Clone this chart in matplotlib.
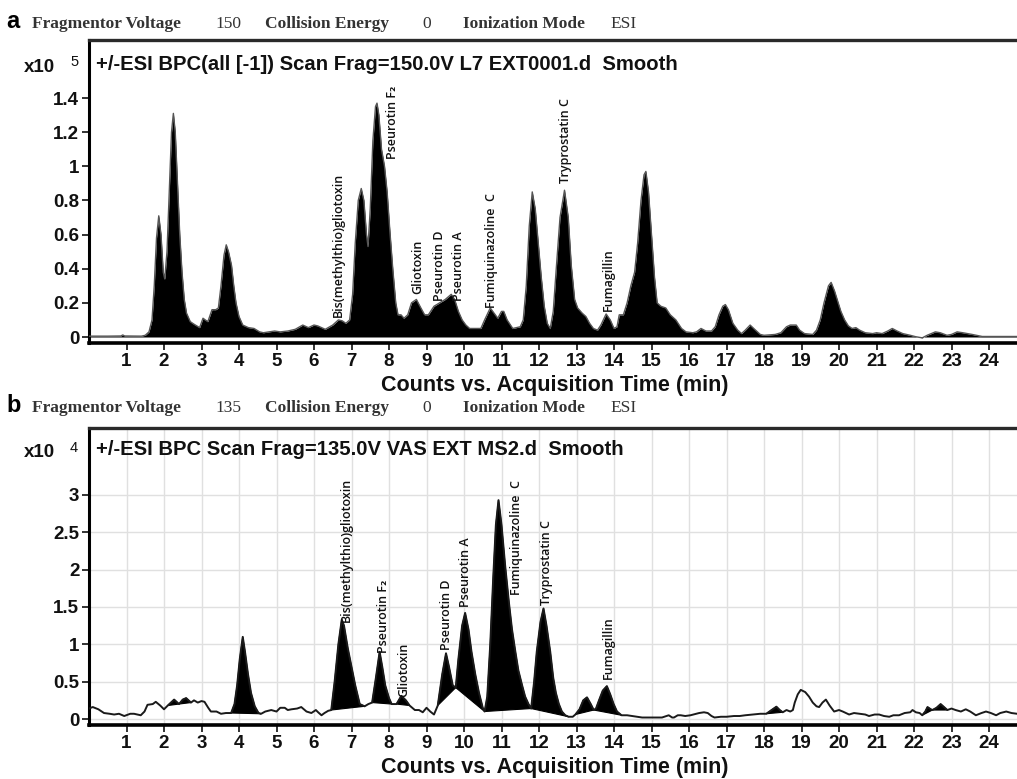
import numpy as np
import matplotlib
matplotlib.use("Agg")
import matplotlib.pyplot as plt

# ---------------- data ----------------
# Panel a: BPC trace (time in min, counts x10^5)
a_time = [0.0, 0.5, 0.85, 0.9, 0.95, 1.4, 1.5, 1.6, 1.68, 1.74, 1.8, 1.86, 1.92, 1.98, 2.02, 2.08, 2.14,
          2.2, 2.25, 2.3, 2.36, 2.42, 2.48, 2.54, 2.6, 2.7, 2.8, 2.95, 3.04, 3.1, 3.17, 3.28, 3.38, 3.45,
          3.52, 3.6, 3.66, 3.72, 3.8, 3.86, 3.92, 4.0, 4.1, 4.25, 4.4, 4.55, 4.65, 4.8, 4.95, 5.1, 5.3,
          5.5, 5.7, 5.85, 6.0, 6.1, 6.3, 6.5, 6.65, 6.75, 6.85, 6.95, 7.03, 7.1, 7.18, 7.26, 7.33, 7.4,
          7.44, 7.5, 7.57, 7.64, 7.68, 7.73, 7.8, 7.88, 7.95, 8.02, 8.1, 8.18, 8.24, 8.32, 8.4, 8.5, 8.6,
          8.73, 8.85, 8.95, 9.05, 9.2, 9.35, 9.5, 9.66, 9.75, 9.85, 9.95, 10.05, 10.15, 10.45, 10.55,
          10.7, 10.8, 10.9, 11.0, 11.06, 11.15, 11.3, 11.5, 11.58, 11.66, 11.74, 11.82, 11.9, 11.98,
          12.06, 12.14, 12.22, 12.3, 12.38, 12.46, 12.56, 12.68, 12.78, 12.86, 12.95, 13.03, 13.15,
          13.25, 13.35, 13.45, 13.56, 13.65, 13.79, 13.9, 14.0, 14.08, 14.14, 14.25, 14.35, 14.45,
          14.55, 14.63, 14.72, 14.8, 14.85, 14.92, 15.0, 15.08, 15.15, 15.25, 15.38, 15.5, 15.65, 15.8,
          15.92, 16.1, 16.2, 16.32, 16.45, 16.6, 16.7, 16.8, 16.9, 16.97, 17.05, 17.17, 17.3, 17.4,
          17.5, 17.63, 17.75, 17.9, 18.0, 18.3, 18.45, 18.6, 18.7, 18.86, 18.95, 19.08, 19.3, 19.4,
          19.5, 19.6, 19.72, 19.79, 19.88, 19.95, 20.05, 20.15, 20.25, 20.35, 20.45, 20.55, 20.7, 20.9,
          21.0, 21.15, 21.3, 21.42, 21.55, 21.7, 21.9, 22.04, 22.22, 22.35, 22.57, 22.7, 22.88, 23.0,
          23.15, 23.3, 23.55, 23.82, 24.0, 25.2]
a_counts = [0.005, 0.005, 0.006, 0.012, 0.006, 0.005, 0.01, 0.03, 0.1, 0.3, 0.58, 0.71, 0.6, 0.38, 0.34,
            0.5, 0.85, 1.2, 1.31, 1.2, 0.9, 0.6, 0.38, 0.22, 0.14, 0.09, 0.075, 0.055, 0.11, 0.1, 0.09,
            0.16, 0.16, 0.17, 0.3, 0.48, 0.54, 0.5, 0.42, 0.3, 0.2, 0.12, 0.07, 0.055, 0.05, 0.03, 0.025,
            0.03, 0.035, 0.03, 0.035, 0.045, 0.07, 0.055, 0.07, 0.065, 0.045, 0.07, 0.1, 0.095, 0.08,
            0.1, 0.25, 0.55, 0.8, 0.87, 0.8, 0.6, 0.53, 0.75, 1.15, 1.35, 1.37, 1.3, 1.1, 1.0, 0.85,
            0.63, 0.4, 0.2, 0.13, 0.13, 0.11, 0.13, 0.2, 0.22, 0.17, 0.13, 0.13, 0.18, 0.2, 0.22, 0.25,
            0.22, 0.15, 0.1, 0.07, 0.05, 0.05, 0.1, 0.17, 0.14, 0.11, 0.15, 0.15, 0.1, 0.05, 0.06, 0.1,
            0.3, 0.65, 0.85, 0.75, 0.55, 0.35, 0.18, 0.08, 0.05, 0.15, 0.4, 0.7, 0.86, 0.7, 0.42, 0.22,
            0.17, 0.14, 0.12, 0.08, 0.05, 0.04, 0.07, 0.135, 0.1, 0.05, 0.06, 0.13, 0.13, 0.2, 0.3, 0.38,
            0.55, 0.8, 0.95, 0.97, 0.85, 0.6, 0.35, 0.2, 0.18, 0.17, 0.13, 0.1, 0.05, 0.03, 0.025, 0.03,
            0.05, 0.035, 0.035, 0.06, 0.13, 0.18, 0.19, 0.16, 0.08, 0.04, 0.02, 0.04, 0.07, 0.045, 0.015,
            0.01, 0.015, 0.025, 0.06, 0.07, 0.07, 0.04, 0.02, 0.015, 0.04, 0.1, 0.2, 0.3, 0.32, 0.27,
            0.22, 0.15, 0.1, 0.065, 0.05, 0.055, 0.04, 0.025, 0.02, 0.025, 0.02, 0.035, 0.05, 0.035, 0.02,
            0.01, 0.002, -0.005, 0.01, 0.03, 0.025, 0.01, 0.015, 0.03, 0.025, 0.015, 0.003, 0.003, 0.003]

# Panel b: BPC trace (time in min, counts x10^4)
b_time = [0.0, 0.1, 0.25, 0.4, 0.55, 0.67, 0.8, 0.94, 1.1, 1.2, 1.38, 1.48, 1.56, 1.7, 1.78, 1.9, 2.0,
          2.1, 2.27, 2.4, 2.5, 2.59, 2.72, 2.8, 2.9, 3.0, 3.08, 3.18, 3.25, 3.4, 3.52, 3.65, 3.79, 3.88,
          3.95, 4.02, 4.1, 4.16, 4.24, 4.32, 4.42, 4.52, 4.59, 4.7, 4.86, 5.0, 5.1, 5.22, 5.3, 5.4, 5.55,
          5.66, 5.8, 5.93, 6.05, 6.11, 6.2, 6.28, 6.38, 6.46, 6.55, 6.65, 6.74, 6.8, 6.9, 7.0, 7.1, 7.22,
          7.35, 7.45, 7.55, 7.65, 7.75, 7.82, 7.9, 8.0, 8.07, 8.2, 8.33, 8.45, 8.55, 8.69, 8.8, 8.9, 9.0,
          9.1, 9.2, 9.3, 9.42, 9.52, 9.6, 9.7, 9.78, 9.85, 9.95, 10.03, 10.12, 10.2, 10.3, 10.4, 10.5,
          10.55, 10.62, 10.7, 10.78, 10.85, 10.92, 11.0, 11.1, 11.2, 11.28, 11.37, 11.45, 11.55, 11.63,
          11.72, 11.79, 11.87, 11.94, 12.04, 12.12, 12.2, 12.3, 12.38, 12.45, 12.53, 12.61, 12.7, 12.79,
          12.9, 12.97, 13.08, 13.18, 13.28, 13.38, 13.46, 13.52, 13.6, 13.7, 13.81, 13.9, 13.99, 14.08,
          14.2, 14.35, 14.48, 14.6, 14.75, 15.0, 15.28, 15.4, 15.46, 15.55, 15.6, 15.7, 15.78, 15.9,
          16.04, 16.2, 16.27, 16.4, 16.5, 16.6, 16.68, 16.85, 17.0, 17.2, 17.35, 17.5, 17.7, 17.9, 18.06,
          18.2, 18.33, 18.42, 18.5, 18.6, 18.7, 18.77, 18.82, 18.9, 18.98, 19.1, 19.2, 19.3, 19.4, 19.47,
          19.56, 19.65, 19.75, 19.87, 20.0, 20.1, 20.27, 20.4, 20.54, 20.7, 20.8, 20.95, 21.07, 21.2,
          21.34, 21.45, 21.6, 21.75, 21.9, 21.96, 22.05, 22.15, 22.22, 22.3, 22.36, 22.45, 22.49, 22.6,
          22.71, 22.8, 22.89, 23.0, 23.11, 23.25, 23.38, 23.5, 23.65, 23.8, 23.92, 24.05, 24.19, 24.3,
          24.46, 24.6, 24.75, 25.2]
b_counts = [0.14, 0.16, 0.13, 0.08, 0.07, 0.06, 0.07, 0.04, 0.07, 0.07, 0.05, 0.1, 0.19, 0.2, 0.23, 0.18,
            0.13, 0.18, 0.26, 0.2, 0.26, 0.28, 0.22, 0.25, 0.22, 0.24, 0.23, 0.15, 0.1, 0.1, 0.07, 0.08,
            0.08, 0.2, 0.45, 0.8, 1.1, 0.9, 0.6, 0.35, 0.17, 0.08, 0.07, 0.1, 0.12, 0.1, 0.15, 0.15, 0.12,
            0.13, 0.14, 0.16, 0.1, 0.08, 0.12, 0.09, 0.05, 0.08, 0.11, 0.12, 0.5, 1.0, 1.33, 1.25, 0.95,
            0.7, 0.45, 0.2, 0.17, 0.2, 0.22, 0.55, 0.9, 0.7, 0.45, 0.28, 0.2, 0.2, 0.31, 0.25, 0.18, 0.12,
            0.12, 0.09, 0.15, 0.1, 0.06, 0.18, 0.6, 0.88, 0.7, 0.45, 0.42, 0.8, 1.25, 1.42, 1.2, 0.9, 0.6,
            0.35, 0.15, 0.1, 0.3, 1.0, 1.9, 2.6, 2.93, 2.6, 2.04, 1.55, 1.2, 0.9, 0.65, 0.45, 0.3, 0.2,
            0.14, 0.5, 0.9, 1.3, 1.48, 1.25, 0.9, 0.55, 0.35, 0.2, 0.1, 0.05, 0.03, 0.03, 0.06, 0.13, 0.25,
            0.29, 0.2, 0.12, 0.14, 0.25, 0.38, 0.44, 0.33, 0.2, 0.1, 0.05, 0.05, 0.04, 0.03, 0.02, 0.02,
            0.02, 0.04, 0.05, 0.02, 0.02, 0.05, 0.05, 0.04, 0.05, 0.07, 0.08, 0.09, 0.08, 0.04, 0.02, 0.03,
            0.03, 0.04, 0.04, 0.05, 0.06, 0.07, 0.07, 0.12, 0.165, 0.12, 0.09, 0.12, 0.1, 0.12, 0.22, 0.33,
            0.39, 0.36, 0.3, 0.22, 0.17, 0.16, 0.22, 0.26, 0.18, 0.1, 0.12, 0.1, 0.06, 0.08, 0.07, 0.06,
            0.04, 0.06, 0.06, 0.04, 0.03, 0.05, 0.05, 0.08, 0.09, 0.12, 0.09, 0.08, 0.05, 0.1, 0.16, 0.13,
            0.12, 0.15, 0.2, 0.16, 0.12, 0.14, 0.12, 0.1, 0.13, 0.1, 0.05, 0.08, 0.1, 0.08, 0.05, 0.08,
            0.1, 0.08, 0.07, 0.07]

# Panel b integrated peaks (start, end) in min
b_peak_windows = [(2.1, 2.4), (2.4, 2.72), (3.79, 4.59), (6.46, 7.35), (7.55, 8.07), (8.2, 8.55),
                  (9.3, 9.78), (9.78, 10.55), (10.55, 11.79), (11.79, 12.79), (12.97, 13.46),
                  (13.46, 14.2), (18.06, 18.5), (22.22, 22.49), (22.49, 22.89)]

# Compound annotations (label, time, height)
a_labels = ["Bis(methylthio)gliotoxin", "Pseurotin F\u2082", "Gliotoxin", "Pseurotin D", "Pseurotin A",
            "Fumiquinazoline  C", "Tryprostatin C", "Fumagillin"]
a_label_t = [6.65, 8.1, 8.77, 9.35, 9.84, 10.72, 12.7, 13.86]
a_label_y = [0.12, 1.04, 0.25, 0.21, 0.21, 0.17, 0.9, 0.15]

b_labels = ["Bis(methylthio)gliotoxin", "Pseurotin F\u2082", "Gliotoxin", "Pseurotin D", "Pseurotin A",
            "Fumiquinazoline  C", "Tryprostatin C", "Fumagillin"]
b_label_t = [6.86, 7.85, 8.38, 9.54, 10.03, 11.4, 12.2, 13.84]
b_label_y = [1.3, 0.88, 0.3, 0.92, 1.5, 1.66, 1.52, 0.54]

a_yticks = [0, 0.2, 0.4, 0.6, 0.8, 1.0, 1.2, 1.4]
b_yticks = [0, 0.5, 1.0, 1.5, 2.0, 2.5, 3.0]
x_ticks = list(range(1, 25))

a_title = "+/-ESI BPC(all [-1]) Scan Frag=150.0V L7 EXT0001.d  Smooth"
b_title = "+/-ESI BPC Scan Frag=135.0V VAS EXT MS2.d  Smooth"
a_header = ["Fragmentor Voltage", "150", "Collision Energy", "0", "Ionization Mode", "ESI"]
b_header = ["Fragmentor Voltage", "135", "Collision Energy", "0", "Ionization Mode", "ESI"]
a_exp, b_exp = "5", "4"
xlabel = "Counts vs. Acquisition Time (min)"

# ---------------- layout ----------------
W, H = 1017, 779
fig = plt.figure(figsize=(W / 100, H / 100), dpi=100)
fig.patch.set_facecolor("white")

def fx(px):
    return px / W

def fy(py):
    return 1 - py / H

X0 = 89           # px of t = 0
XS = 37.5         # px per minute
XR = 1040         # right end of axes (off canvas)
SANS = ["Liberation Sans", "DejaVu Sans"]
LBL = ["Open Sans", "DejaVu Sans"]
SERIF = ["Liberation Serif", "DejaVu Serif"]


def make_axes(top_px, bot_px, zero_px, unit_px):
    ax = fig.add_axes([fx(X0), fy(bot_px), (XR - X0) / W, (bot_px - top_px) / H])
    ax.set_xlim(0, (XR - X0) / XS)
    ax.set_ylim((zero_px - bot_px) / unit_px, (zero_px - top_px) / unit_px)
    ax.spines["right"].set_visible(False)
    ax.spines["left"].set_linewidth(2.2)
    ax.spines["bottom"].set_linewidth(2.6)
    ax.spines["top"].set_linewidth(2.4)
    ax.spines["top"].set_color("#2a2a2a")
    ax.tick_params(axis="both", direction="out", length=5, width=1.2, pad=2,
                   labelsize=13.5, colors="#111111")
    return ax


def decorate(ax, yticks, header, title, exp, head_y, title_y, xlab_y):
    ax.set_xticks(x_ticks, labels=[str(v) for v in x_ticks], fontweight="bold", family=SANS)
    ax.set_yticks(yticks, labels=[f"{v:g}" for v in yticks], fontweight="bold", family=SANS)
    fig.text(fx(96), fy(title_y), title, fontsize=14.6, fontweight="bold", family=SANS,
             va="center", ha="left", color="#111111")
    fig.text(fx(24), fy(title_y + 3), "x10", fontsize=13.5, fontweight="bold", family=SANS,
             va="center", ha="left", color="#111111")
    fig.text(fx(70), fy(title_y - 2), exp, fontsize=10.5, family=SANS,
             va="center", ha="left", color="#111111")
    fig.text(fx(555), fy(xlab_y), xlabel, fontsize=15.5, fontweight="bold", family=SANS,
             va="center", ha="center", color="#111111")
    xs = [32, 215, 265, 422, 463, 610]
    bold = [True, False, True, False, True, False]
    for s, x, b in zip(header, xs, bold):
        fig.text(fx(x), fy(head_y), s, fontsize=12.5, fontweight="bold" if b else "normal",
                 family=SERIF, va="center", ha="left", color="#333333")


# ---- panel a ----
axa = make_axes(40, 343, 337, 170.7)
axa.fill_between(a_time, 0, a_counts, color="black", linewidth=0, zorder=2)
axa.plot(a_time, a_counts, color="#555555", linewidth=1.0, zorder=3)
for s, t, y in zip(a_labels, a_label_t, a_label_y):
    axa.text(t, y, s, rotation=90, ha="center", va="bottom", fontsize=9,
             fontweight="semibold", family=LBL, color="#111111", zorder=4)
decorate(axa, a_yticks, a_header, a_title, a_exp, 24, 64, 386)
fig.text(fx(6), fy(22), "a", fontsize=17, fontweight="bold", family=SANS, va="center", ha="left")

# ---- panel b ----
axb = make_axes(428, 725, 719, 74.7)
axb.set_axisbelow(True)
axb.grid(True, color="#e0e0e0", linewidth=1.0, zorder=0)
bt = np.array(b_time)
bc = np.array(b_counts)
for t0, t1 in b_peak_windows:
    m = (bt >= t0) & (bt <= t1)
    axb.fill(bt[m], bc[m], color="black", linewidth=0.8, edgecolor="black", zorder=2)
axb.plot(bt, bc, color="#1a1a1a", linewidth=1.4, zorder=3)
for s, t, y in zip(b_labels, b_label_t, b_label_y):
    axb.text(t, y, s, rotation=90, ha="center", va="bottom", fontsize=9,
             fontweight="semibold", family=LBL, color="#111111", zorder=4)
decorate(axb, b_yticks, b_header, b_title, b_exp, 408, 450, 767)
fig.text(fx(6), fy(406), "b", fontsize=17, fontweight="bold", family=SANS, va="center", ha="left")

fig.savefig("out.png", dpi=100)
